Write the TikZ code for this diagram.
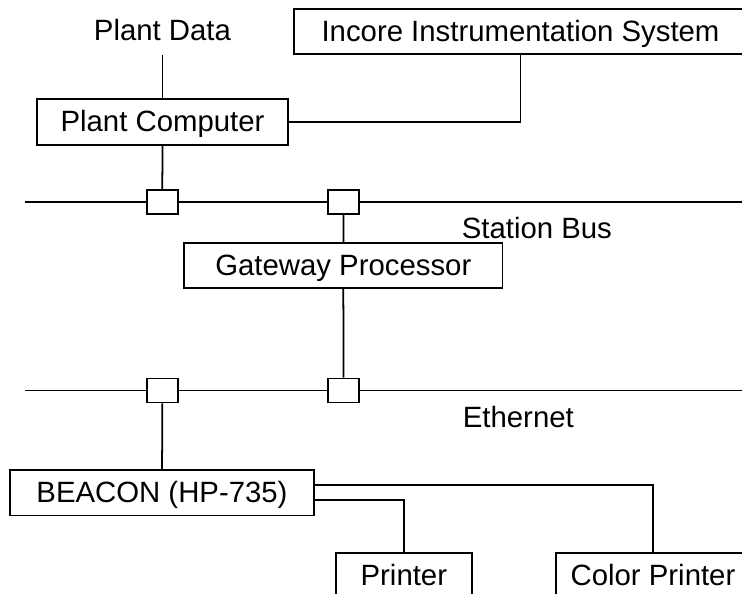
\documentclass[tikz,border=0pt]{standalone}
\usepackage{fontspec}
\setmainfont{Liberation Sans}

\tikzset{
    box/.style={draw, line width=1pt, inner sep=0pt, minimum height=0.9cm,
        text height=13pt, text depth=2pt},
    tap/.style={draw, line width=1pt, fill=white, inner sep=0pt,
        minimum width=0.62cm, minimum height=0.48cm},
    busname/.style={anchor=base west, inner sep=0pt},
}

\begin{document}
\begin{tikzpicture}[x=0.02cm, y=-0.02cm, line width=1pt,
        font=\fontsize{16.7}{20}\selectfont]
    \useasboundingbox (0,0) rectangle (742,593);
    \clip (0,0) rectangle (742,593);

    % top: sources of plant data
    \node[inner xsep=0pt, inner ysep=6pt, text height=13pt, text depth=2pt,
        anchor=base] (plantdata) at (162.5,40) {Plant Data};
    \node[box, minimum width=9.06cm] (incore) at (520.5,31.6) {Incore Instrumentation System};
    \node[box, minimum width=5.01cm, minimum height=0.92cm] (plantpc) at (162.5,122) {Plant Computer};
    \node[box, minimum width=6.37cm] (gateway) at (343.3,265.5) {Gateway Processor};
    \node[box, minimum width=6.08cm, minimum height=0.91cm] (beacon) at (162,492.75) {BEACON (HP-735)};
    \node[box, minimum width=2.73cm] (printer) at (403.85,575.5) {Printer};
    \node[box, minimum width=3.88cm] (cprinter) at (653,575.5) {Color Printer};

    % the two buses, with their taps
    \coordinate (sbw) at (25,201.7);
    \coordinate (sbe) at (760,201.7);
    \coordinate (etw) at (25,390.5);
    \coordinate (ete) at (760,390.5);
    \foreach \name / \x / \y in {sb1/162.3/201.7, sb2/343.5/201.7, et1/162.3/390.5, et2/343.5/390.5}
    {
        \node[tap] (\name) at (\x,\y) {};
    }
    \draw (sbw) -- (sb1) (sb1) -- (sb2) (sb2) -- (sbe);
    \draw (etw) -- (et1) (et1) -- (et2) (et2) -- (ete);
    \node[busname] (sbname) at (461,238) {Station Bus};
    \node[busname] (etname) at (462,427) {Ethernet};

    % links
    \draw (plantdata) -- (plantpc);
    \draw (plantpc.east) -| (incore.south);
    \draw (plantpc) -- (sb1);
    \draw (sb2) -- (gateway);
    \draw (gateway) -- (et2);
    \draw (et1) -- (beacon);
    \draw ([yshift=4.25pt]beacon.east) -| (cprinter.north);
    \draw ([yshift=-4.25pt]beacon.east) -| (printer.north);

\end{tikzpicture}
\end{document}
